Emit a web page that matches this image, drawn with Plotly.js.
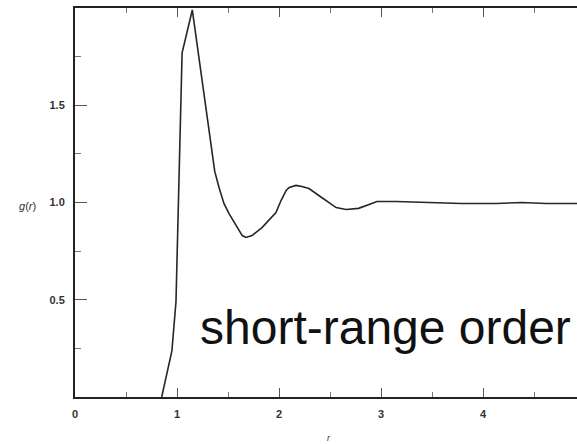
<!DOCTYPE html>
<html>
<head>
<meta charset="utf-8">
<script src="https://cdn.plot.ly/plotly-3.0.1.min.js"></script>
<style>html,body{margin:0;padding:0;background:#fff;overflow:hidden;}#chart{width:600px;height:444px;}</style>
</head>
<body>
<div id="chart"></div>
<script>
// radial distance r
var rValues = [0.85, 0.95, 0.99, 1.05, 1.15, 1.37, 1.412, 1.46, 1.51, 1.58, 1.64, 1.676, 1.735, 1.833, 1.90, 1.97, 2.02, 2.07, 2.10, 2.167, 2.225, 2.294, 2.39, 2.49, 2.56, 2.657, 2.78, 2.91, 2.96, 3.147, 3.47, 3.79, 4.13, 4.38, 4.62, 4.91, 5.1];
// pair distribution function g(r)
var gValues = [0.0, 0.237, 0.49, 1.77, 1.99, 1.16, 1.077, 0.995, 0.943, 0.88, 0.83, 0.820, 0.83, 0.871, 0.907, 0.948, 1.01, 1.062, 1.077, 1.088, 1.082, 1.072, 1.036, 1.0, 0.974, 0.964, 0.97, 0.995, 1.005, 1.005, 1.0, 0.995, 0.995, 1.0, 0.995, 0.995, 0.995];
var xTickVals = [0, 1, 2, 3, 4];
var xTickText = ["0", "1", "2", "3", "4"];
var yTickVals = [0.5, 1.0, 1.5, 2.0];
var yTickText = ["0.5", "1.0", "1.5", ""];
var annotationText = "short-range order";

var tickFont = {family: "Liberation Sans Narrow, Liberation Sans, Arial, sans-serif", size: 11, color: "#333", weight: "bold"};

var trace = {
  x: rValues, y: gValues, type: "scatter", mode: "lines",
  line: {color: "#262626", width: 1.6}, hoverinfo: "skip"
};

var layout = {
  width: 600, height: 444,
  margin: {l: 75, r: 0, t: 8, b: 47},
  paper_bgcolor: "#fff", plot_bgcolor: "#fff",
  showlegend: false,
  xaxis: {
    range: [0, 5.147], showgrid: false, zeroline: false,
    showline: true, linecolor: "#222", linewidth: 2, mirror: "allticks",
    ticks: "inside", ticklen: 9, tickwidth: 1, tickcolor: "#555",
    tickvals: xTickVals, ticktext: xTickText, tickfont: tickFont,
    ticklabelstandoff: 6,
    minor: {dtick: 0.5, ticks: "inside", ticklen: 5, tickcolor: "#777", showgrid: false}
  },
  yaxis: {
    range: [0, 2.0], showgrid: false, zeroline: false,
    showline: true, linecolor: "#222", linewidth: 2, mirror: false,
    ticks: "inside", ticklen: 12, tickwidth: 1, tickcolor: "#555",
    tickvals: yTickVals, ticktext: yTickText, tickfont: tickFont,
    ticklabelstandoff: 6,
    minor: {dtick: 0.25, ticks: "inside", ticklen: 6, tickcolor: "#777", showgrid: false}
  },
  annotations: [
    {text: annotationText, xref: "x", yref: "y", x: 3.04, y: 0.356, xanchor: "center", yanchor: "middle",
     showarrow: false, font: {family: "Liberation Sans, Arial, sans-serif", size: 48, color: "#111"}},
    {text: "<i>g</i>(<i>r</i>)", xref: "paper", yref: "y", x: -0.09, y: 0.98, xanchor: "center", yanchor: "middle",
     showarrow: false, font: {family: "Liberation Sans Narrow, Liberation Sans, Arial, sans-serif", size: 11, color: "#333"}},
    {text: "<i>r</i>", xref: "x", yref: "paper", x: 2.49, y: -0.105, xanchor: "center", yanchor: "middle",
     showarrow: false, font: {family: "Liberation Sans, Arial, sans-serif", size: 9, color: "#333"}}
  ]
};

Plotly.newPlot("chart", [trace], layout, {staticPlot: true, displayModeBar: false});
</script>
</body>
</html>
